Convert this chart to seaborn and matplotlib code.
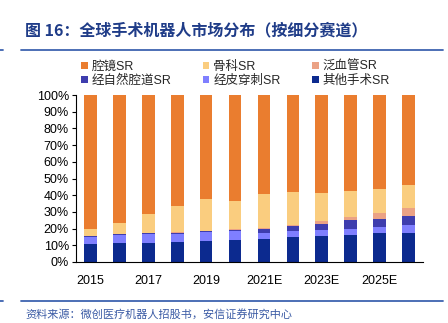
import numpy as np
import pandas as pd
import matplotlib
matplotlib.use("Agg")
import matplotlib.pyplot as plt
import seaborn as sns
from matplotlib.patches import Patch
from matplotlib.lines import Line2D

years = ["2015", "2016", "2017", "2018", "2019", "2020",
         "2021E", "2022E", "2023E", "2024E", "2025E", "2026E"]
tick_labels = ["2015", "", "2017", "", "2019", "", "2021E", "", "2023E", "", "2025E", ""]

other = [10.6, 11.2, 11.2, 12.0, 12.6, 13.4, 14.0, 14.8, 15.6, 16.4, 17.2, 17.2]
percut = [4.6, 5.2, 5.8, 5.0, 5.2, 5.4, 3.6, 3.6, 3.6, 3.6, 3.6, 5.0]
natural = [0.2, 0.2, 0.3, 0.6, 0.6, 0.6, 2.2, 3.0, 3.8, 5.2, 5.2, 5.2]
vascular = [0.2, 0.2, 0.2, 0.2, 0.3, 0.3, 0.6, 0.6, 1.8, 2.0, 3.6, 5.0]
ortho = [4.2, 6.6, 11.1, 15.8, 19.1, 16.9, 20.2, 20.2, 16.8, 15.2, 14.2, 13.8]
laparo = [80.2, 76.6, 71.4, 66.4, 62.2, 63.4, 59.4, 57.8, 58.4, 57.6, 56.2, 53.8]

series_names = ["其他手术SR", "经皮穿刺SR", "经自然腔道SR", "泛血管SR", "骨科SR", "腔镜SR"]
series_vals = [other, percut, natural, vascular, ortho, laparo]
colors = ["#0C2A8F", "#7F7FFF", "#3E3DAE", "#EBA285", "#FACD7F", "#EA7D2F"]

sns.set_theme(style="white")
plt.rcParams["font.family"] = ["Liberation Sans", "Noto Sans CJK SC", "DejaVu Sans"]

fig = plt.figure(figsize=(4.48, 3.23), dpi=100)
ax = fig.add_axes([76 / 448, 61 / 323, 347 / 448, 167 / 323])

cum = np.cumsum(np.array(series_vals, dtype=float), axis=0)
# draw from top layer down so lower layers overlay
for i in range(len(series_names) - 1, -1, -1):
    df = pd.DataFrame({"year": years, "value": cum[i]})
    sns.barplot(data=df, x="year", y="value", color=colors[i], width=0.44,
                saturation=1, ax=ax, edgecolor="none", linewidth=0)

ax.set_xlim(-0.5, 11.5)
ax.set_ylim(0, 100)
ax.set_xlabel("")
ax.set_ylabel("")
ax.set_yticks(np.arange(0, 101, 10))
ax.set_yticklabels([f"{v}%" for v in range(0, 101, 10)], fontsize=9, color="black")
ax.set_xticks(range(12))
ax.set_xticklabels(tick_labels, fontsize=9, color="black")
ax.tick_params(axis="x", which="major", length=0, pad=9)
ax.set_xticks(np.arange(-0.5, 12, 1), minor=True)
ax.tick_params(axis="x", which="minor", length=3, width=0.8, color="black", direction="inout")
ax.tick_params(axis="y", which="major", length=3, width=0.8, color="black", direction="out", pad=2, left=True)
for s in ["top", "right"]:
    ax.spines[s].set_visible(False)
for s in ["left", "bottom"]:
    ax.spines[s].set_color("black")
    ax.spines[s].set_linewidth(0.8)

# title and rules
title_color = "#1F3C88"
fig.text(25 / 448, 1 - 30 / 323, "图 16：全球手术机器人市场分布（按细分赛道）",
         fontsize=11.5, fontweight="bold", color=title_color,
         family=["Noto Sans CJK SC", "DejaVu Sans"], va="center", ha="left")
line_color = "#3E63B0"
for (x0, x1) in [(0, 3), (21, 443)]:
    fig.add_artist(Line2D([x0 / 448, x1 / 448], [1 - 50 / 323] * 2, color=line_color, lw=1.3))
    fig.add_artist(Line2D([x0 / 448, x1 / 448], [1 - 301 / 323] * 2, color=line_color, lw=1.3))

fig.text(25 / 448, 1 - 314 / 323, "资料来源：微创医疗机器人招股书，安信证券研究中心",
         fontsize=8, color="#3B5BA5", style="italic",
         family=["Noto Sans CJK SC", "DejaVu Sans"], va="center", ha="left")

# legend (column-major order)
order = [5, 2, 4, 1, 3, 0]
handles = [Patch(facecolor=colors[i], edgecolor="none") for i in order]
labels = [series_names[i] for i in order]
fig.legend(handles, labels, ncol=3, loc="upper left",
           bbox_to_anchor=(72 / 448, 1 - 52 / 323), frameon=False,
           prop={"family": ["Liberation Sans", "Noto Sans CJK SC"], "size": 9},
           handlelength=0.55, handleheight=0.55, handletextpad=0.3,
           columnspacing=2.5, labelspacing=0.15, borderpad=0.2)

fig.savefig("out.png", dpi=100)
